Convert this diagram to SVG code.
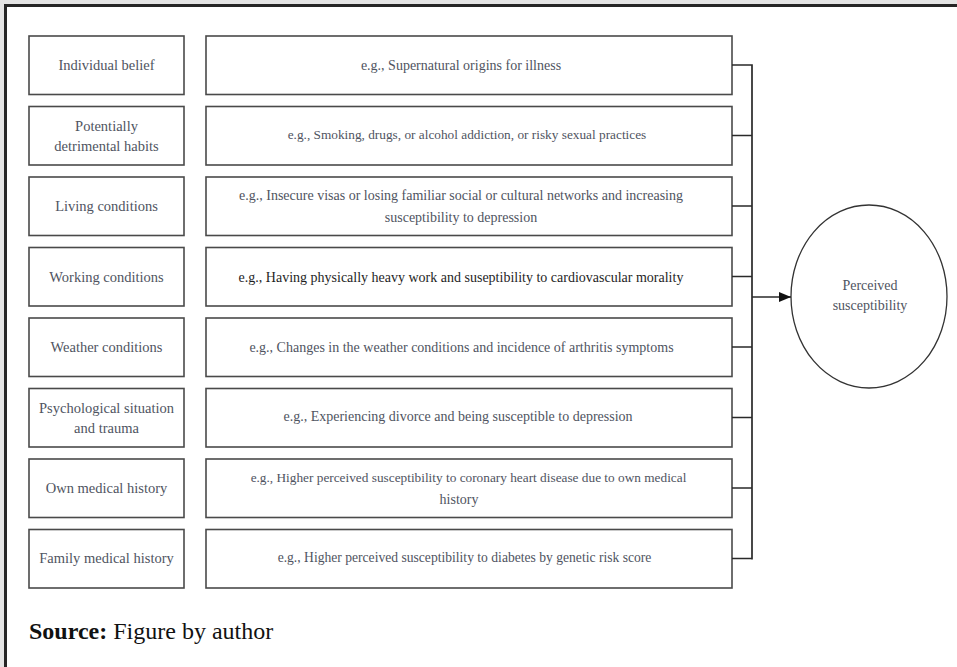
<svg xmlns="http://www.w3.org/2000/svg" width="957" height="667" viewBox="0 0 957 667">
<style>
.box{fill:#fff;stroke:#4a4a4a;stroke-width:1.6}
.t{font-family:"Liberation Serif","Times New Roman",serif;font-size:14px;fill:#4f5461;text-anchor:middle}
.tl{font-size:14.5px}
.sm{font-size:13.3px}
.sm2{font-size:13.6px}
.dk{fill:#1e1e1e}
.con{fill:none;stroke:#2a2a2a;stroke-width:1.7}
</style>
<defs>
<marker id="ah" viewBox="0 0 12 10" refX="12" refY="5" markerWidth="12" markerHeight="10" markerUnits="userSpaceOnUse" orient="auto">
<path d="M0,0 L12,5 L0,10 Z" fill="#111"/>
</marker>
</defs>
<rect x="0" y="0" width="957" height="667" fill="#e4e4e4"/>
<rect x="4" y="4" width="953" height="663" fill="#fff"/>
<path d="M5.5,667 V5.5 H957" fill="none" stroke="#262626" stroke-width="3"/>

<g id="factor-1"><rect class="box" x="29" y="36" width="155" height="58.5"/><text class="t tl" x="106.5" y="70">Individual belief</text></g>
<g id="factor-2"><rect class="box" x="29" y="106.5" width="155" height="58.5"/><text class="t tl" x="106.5" y="131">Potentially</text><text class="t tl" x="106.5" y="150.5">detrimental habits</text></g>
<g id="factor-3"><rect class="box" x="29" y="177" width="155" height="58.5"/><text class="t tl" x="106.5" y="210.5">Living conditions</text></g>
<g id="factor-4"><rect class="box" x="29" y="247.5" width="155" height="58.5"/><text class="t tl" x="106.5" y="281.5">Working conditions</text></g>
<g id="factor-5"><rect class="box" x="29" y="318" width="155" height="58.5"/><text class="t tl" x="106.5" y="352">Weather conditions</text></g>
<g id="factor-6"><rect class="box" x="29" y="388.5" width="155" height="58.5"/><text class="t tl" x="106.5" y="413">Psychological situation</text><text class="t tl" x="106.5" y="432.5">and trauma</text></g>
<g id="factor-7"><rect class="box" x="29" y="459" width="155" height="58.5"/><text class="t tl" x="106.5" y="493">Own medical history</text></g>
<g id="factor-8"><rect class="box" x="29" y="529.5" width="155" height="58.5"/><text class="t tl" x="106.5" y="562.5">Family medical history</text></g>

<g id="example-1"><rect class="box" x="206" y="36" width="526" height="58.5"/><text class="t" x="461" y="70">e.g., Supernatural origins for illness</text></g>
<g id="example-2"><rect class="box" x="206" y="106.5" width="526" height="58.5"/><text class="t sm" x="467" y="138.5">e.g., Smoking, drugs, or alcohol addiction, or risky sexual practices</text></g>
<g id="example-3"><rect class="box" x="206" y="177" width="526" height="58.5"/><text class="t" x="461" y="200">e.g., Insecure visas or losing familiar social or cultural networks and increasing</text><text class="t" x="461" y="222">susceptibility to depression</text></g>
<g id="example-4"><rect class="box" x="206" y="247.5" width="526" height="58.5"/><text class="t dk" x="461" y="281.5">e.g., Having physically heavy work and suseptibility to cardiovascular morality</text></g>
<g id="example-5"><rect class="box" x="206" y="318" width="526" height="58.5"/><text class="t" x="461.5" y="351.5">e.g., Changes in the weather conditions and incidence of arthritis symptoms</text></g>
<g id="example-6"><rect class="box" x="206" y="388.5" width="526" height="58.5"/><text class="t" x="458" y="421">e.g., Experiencing divorce and being susceptible to depression</text></g>
<g id="example-7"><rect class="box" x="206" y="459" width="526" height="58.5"/><text class="t sm" x="468.5" y="482">e.g., Higher perceived susceptibility to coronary heart disease due to own medical</text><text class="t" x="459" y="504">history</text></g>
<g id="example-8"><rect class="box" x="206" y="529.5" width="526" height="58.5"/><text class="t sm2" x="464.5" y="561.5">e.g., Higher perceived susceptibility to diabetes by genetic risk score</text></g>

<g id="outcome"><ellipse cx="869" cy="296.5" rx="78" ry="91.5" fill="#fff" stroke="#333" stroke-width="1.3"/><text class="t" x="870" y="289.5">Perceived</text><text class="t" x="870" y="309.5">susceptibility</text></g>

<g id="connectors">
<path class="con" d="M732,65 H752 M732,135.5 H752 M732,206 H752 M732,276.5 H752 M732,347 H752 M732,417.5 H752 M732,488 H752 M732,558.5 H752 M752,64.2 V559.4"/>
<path class="con" d="M752,297 H791" marker-end="url(#ah)"/>
</g>

<text x="29" y="639" font-family="'Liberation Serif','Times New Roman',serif" font-size="24" fill="#111"><tspan font-weight="bold">Source:</tspan> Figure by author</text>
</svg>
